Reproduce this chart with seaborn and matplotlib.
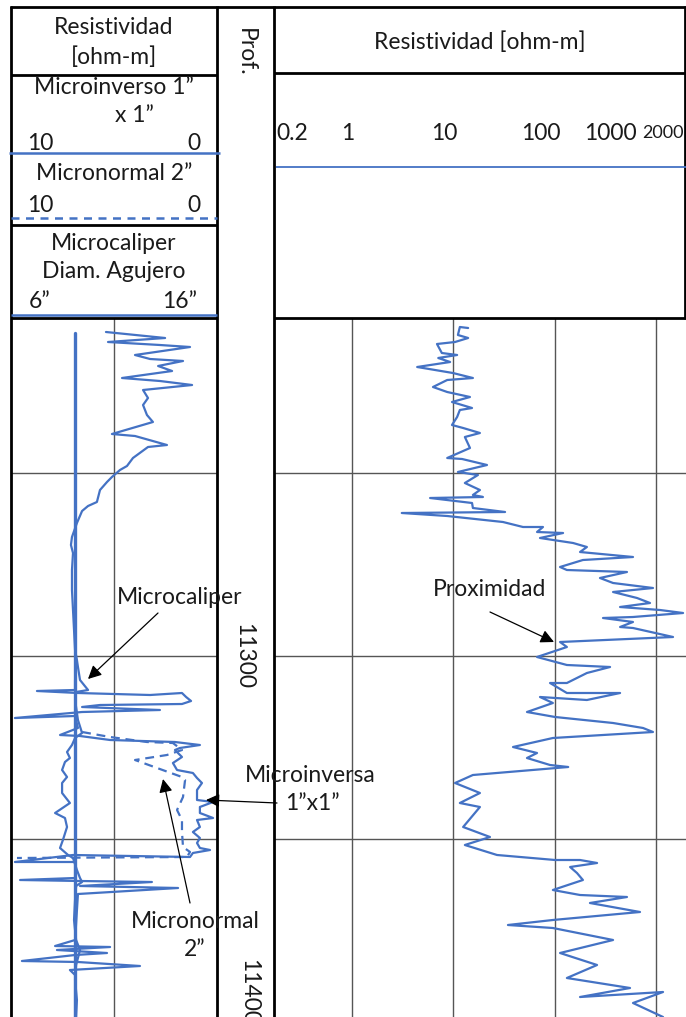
import matplotlib
matplotlib.use("Agg")
import matplotlib.pyplot as plt
from matplotlib.ticker import NullLocator
import seaborn as sns

sns.set_theme(style="white")
plt.rcParams['font.family'] = ['Lato', 'DejaVu Sans']

BLUE = "#4472C4"
GRID = "#555555"

# ---------------- log data (depth in ft) ----------------
# Proximity resistivity, ohm-m
prox_depth = [11201.6, 11201.3, 11203.7, 11204.6, 11205.8, 11206.4, 11209.1, 11209.7, 11210.6, 11211.8,
              11213.3, 11215.1, 11216.6, 11217.2, 11219.3, 11220.8, 11222.3, 11223.8, 11225.6, 11226.2,
              11228.3, 11230.7, 11231.6, 11233.1, 11234.3, 11237.6, 11240.6, 11240.9, 11242.7, 11244.8,
              11245.7, 11248.1, 11250.2, 11251.7, 11252.3, 11252.6, 11254.1, 11255.6, 11256.8, 11257.1,
              11258.0, 11259.8, 11261.3, 11261.3, 11262.8, 11263.1, 11264.6, 11266.1, 11267.3, 11268.8,
              11270.3, 11271.2, 11273.3, 11274.2, 11274.8, 11276.6, 11278.1, 11279.6, 11280.8, 11282.6,
              11284.1, 11285.3, 11286.2, 11287.1, 11288.3, 11288.6, 11289.8, 11291.3, 11291.6, 11294.3,
              11295.8, 11297.3, 11300.3, 11302.7, 11303.3, 11305.1, 11308.1, 11308.1, 11311.1, 11311.1,
              11313.2, 11312.3, 11314.1, 11316.8, 11318.3, 11320.1, 11321.6, 11322.8, 11324.6, 11327.3,
              11329.1, 11330.6, 11332.7, 11333.3, 11335.7, 11338.1, 11341.1, 11344.1, 11345.3, 11351.3,
              11354.3, 11356.7, 11359.7, 11361.2, 11361.2, 11362.1, 11363.3, 11365.1, 11367.2, 11370.2,
              11371.7, 11372.3, 11374.1, 11376.8, 11379.2, 11380.7, 11381.6, 11385.2, 11389.1, 11392.7,
              11396.6, 11399.6, 11402.3, 11400.8, 11404.1, 11408.3]
prox_res = [14.0, 11.6, 11.1, 14.0, 10.4, 6.9, 7.7, 10.9, 7.1, 9.3,
            4.4, 9.9, 15.6, 8.7, 6.3, 8.7, 14.6, 9.7, 15.3, 11.6,
            10.9, 9.7, 12.5, 18.3, 13.0, 14.6, 8.7, 12.2, 21.5, 11.1,
            17.5, 13.0, 18.3, 15.6, 19.6, 5.9, 15.3, 15.6, 32.4, 3.1,
            8.7, 30.9, 48.7, 76.7, 67, 121, 71.7, 152, 208, 178,
            593, 190, 113, 132, 517, 280, 377, 934, 377, 650,
            873, 442, 1096, 1849, 593, 300, 593, 442, 593, 1472,
            113, 132, 67, 132, 352, 208, 132, 90, 132, 442,
            208, 71.7, 96, 53.3, 101, 377, 745, 934, 96, 38.8,
            67, 53.3, 90, 136, 15.6, 10.4, 18.3, 11.6, 18.3, 12.5,
            23.0, 13.0, 27.0, 101, 178, 262, 142, 166, 190, 96,
            178, 517, 223, 695, 96, 34.6, 96, 377, 113, 262,
            132, 554, 178, 1173, 593, 1173]

# Microcaliper, inches
cal_depth = [11202.8, 11204.6, 11205.8, 11206.7, 11207.3, 11209.7, 11210.9, 11211.5, 11213.0, 11214.5,
             11216.6, 11217.5, 11218.7, 11220.2, 11222.6, 11224.7, 11227.7, 11229.8, 11233.4, 11234.0,
             11236.7, 11237.3, 11240.6, 11243.0, 11244.2, 11246.3, 11247.8, 11250.2, 11253.8, 11255.0,
             11256.5, 11260.1, 11264.3, 11266.7, 11269.1, 11274.2, 11280.2, 11286.2, 11292.2, 11298.2,
             11301.2, 11303.3, 11307.2, 11310.2, 11310.8, 11313.2, 11319.2, 11323.1, 11324.6, 11326.7,
             11328.8, 11330.6, 11331.8, 11334.2, 11336.3, 11338.1, 11341.1, 11344.1, 11347.1, 11348.6,
             11351.3, 11355.2, 11357.6, 11359.7, 11360.6, 11364.2, 11366.6, 11367.8, 11369.0, 11373.2,
             11379.2, 11385.2, 11388.2, 11390.6, 11392.7, 11397.2, 11403.2, 11408.3]
cal_in = [10.61, 13.48, 10.71, 13.23, 14.69, 12.02, 12.75, 14.35, 13.14, 13.82,
          11.39, 13.23, 14.79, 12.41, 12.65, 12.41, 12.60, 12.89, 10.90, 12.02,
          13.57, 12.65, 11.92, 11.63, 11.29, 10.90, 10.66, 10.32, 10.17, 9.74,
          9.45, 9.20, 8.96, 8.91, 9.01, 8.96, 8.96, 9.01, 9.06, 9.11,
          9.20, 9.25, 9.35, 9.74, 9.16, 9.11, 9.25, 9.45, 9.11, 8.96,
          8.72, 8.86, 8.62, 8.48, 8.72, 8.48, 8.48, 8.86, 8.14, 8.62,
          8.72, 8.52, 8.38, 8.77, 9.01, 9.20, 9.35, 9.45, 9.16, 9.11,
          9.06, 9.16, 9.35, 9.25, 9.16, 9.11, 9.20, 9.16]

# Bit size reference, inches
bit_depth = [11203.1, 11408.3]
bit_in = [9.1, 9.1]

# Microinverse 1"x1", ohm-m
minv_depth = [11307.2, 11310.2, 11310.5, 11311.1, 11311.7, 11311.1, 11312.3, 11313.5, 11314.4, 11314.7,
              11315.3, 11316.2, 11316.8, 11318.6, 11318.0, 11321.6, 11323.7, 11324.0, 11325.2, 11325.8,
              11326.7, 11327.6, 11328.2, 11330.3, 11332.1, 11334.2, 11335.1, 11336.6, 11338.1, 11340.2,
              11343.2, 11343.8, 11345.3, 11347.1, 11348.6, 11349.2, 11351.3, 11352.8, 11354.6, 11356.1,
              11357.6, 11358.2, 11359.1, 11360.3, 11359.7, 11361.8, 11361.8, 11366.6, 11367.2, 11367.5,
              11367.8, 11369.0, 11369.6, 11371.4, 11385.2, 11387.0, 11387.3, 11388.2, 11389.1, 11389.7,
              11391.5, 11391.8, 11393.0, 11394.2, 11395.7, 11408.3]
minv_res = [6.89, 6.89, 8.74, 6.75, 3.25, 1.70, 1.50, 1.26, 1.70, 5.68,
            6.55, 2.77, 6.55, 9.81, 6.89, 6.75, 7.62, 6.65, 5.19, 2.04,
            0.83, 1.80, 2.04, 1.70, 2.14, 1.94, 1.17, 0.97, 0.73, 0.97,
            0.97, 0.19, 0.83, 0.83, 0.19, 0.97, 0.83, 1.17, 0.83, 0.97,
            0.83, 0.34, 1.17, 1.31, 6.99, 9.81, 6.89, 6.89, 9.56, 6.65,
            3.16, 6.65, 1.89, 6.75, 6.89, 7.86, 5.19, 7.77, 5.34, 6.89,
            9.47, 6.75, 3.74, 7.14, 6.89, 6.89]

# Micronormal 2", ohm-m
mnor_depth = [11322.8, 11324.3, 11325.8, 11326.1, 11328.2, 11329.7, 11331.2, 11333.6, 11336.3, 11337.2,
              11342.3, 11346.2, 11349.2, 11352.8, 11357.3, 11358.8, 11360.3, 11360.6]
mnor_res = [6.55, 5.19, 3.40, 2.14, 1.70, 2.43, 3.98, 2.91, 1.70, 1.55,
            1.65, 1.94, 1.70, 1.70, 1.65, 1.31, 1.46, 9.71]

grid_depths = [11245, 11300, 11355]
res_grid = [1, 10, 100, 1000]
depth_labels = ["11300", "11400"]
res_labels = ["0.2", "1", "10", "100", "1000"]

# ---------------- figure layout (pixel based) ----------------
W, H = 686.0, 1017.0
fig = plt.figure(figsize=(W / 100, H / 100), dpi=100)
fig.patch.set_facecolor("white")

TOP_DATA = 318
ax_cal = fig.add_axes([11 / W, 0, (217 - 11) / W, (H - TOP_DATA) / H])
ax_mic = ax_cal.twiny()
ax_res = fig.add_axes([274 / W, 0, (686 - 274) / W, (H - TOP_DATA) / H])
ov = fig.add_axes([0, 0, 1, 1], zorder=10)
ov.set_xlim(0, W)
ov.set_ylim(H, 0)
ov.axis("off")
ov.patch.set_alpha(0)

ylims = (11408.3, 11198.6)

# left track: caliper scale 6-16 in, micro-resistivity scale 10-0 ohm-m
ax_cal.set_xlim(6, 16)
ax_cal.set_ylim(*ylims)
ax_mic.set_xlim(10, 0)
ax_mic.set_ylim(*ylims)
ax_cal.set_xticks([11])
ax_cal.set_yticks(grid_depths)
ax_cal.set_axisbelow(True)
ax_cal.grid(True, color=GRID, lw=1.0)
ax_mic.grid(False)
ax_mic.set_xticks([])

# right track: log resistivity
ax_res.set_xscale("log")
ax_res.set_xlim(0.170, 1977)
ax_res.set_ylim(*ylims)
ax_res.set_xticks(res_grid)
ax_res.xaxis.set_minor_locator(NullLocator())
ax_res.set_yticks(grid_depths)
ax_res.set_axisbelow(True)
ax_res.grid(True, color=GRID, lw=1.0)

for a in (ax_cal, ax_mic, ax_res):
    a.tick_params(length=0, labelbottom=False, labelleft=False, labeltop=False, labelright=False)
    for s in a.spines.values():
        s.set_visible(False)

# ---------------- curves ----------------
LW = 1.6
sns.lineplot(x=bit_in, y=bit_depth, ax=ax_cal, sort=False, estimator=None, color=BLUE, lw=2.4)
sns.lineplot(x=cal_in, y=cal_depth, ax=ax_cal, sort=False, estimator=None, color=BLUE, lw=LW)
sns.lineplot(x=minv_res, y=minv_depth, ax=ax_mic, sort=False, estimator=None, color=BLUE, lw=LW)
sns.lineplot(x=mnor_res, y=mnor_depth, ax=ax_mic, sort=False, estimator=None, color=BLUE, lw=LW,
             linestyle=(0, (4, 2.6)))
sns.lineplot(x=prox_res, y=prox_depth, ax=ax_res, sort=False, estimator=None, color=BLUE, lw=LW)
for a in (ax_cal, ax_mic, ax_res):
    a.set_xlabel("")
    a.set_ylabel("")

# ---------------- header and frame ----------------
def hline(y, x0, x1, **kw):
    ov.plot([x0, x1], [y, y], solid_capstyle="butt", **kw)

def vline(x, y0, y1, **kw):
    ov.plot([x, x], [y0, y1], solid_capstyle="butt", **kw)

K = dict(color="black", lw=2.0)
hline(7, 10, 686, **K)
hline(75, 11, 217, **K)
hline(225, 11, 217, **K)
hline(318, 11, 217, **K)
hline(73, 274, 686, **K)
hline(318, 274, 686, **K)
vline(11, 6, H, **K)
vline(217, 6, H, **K)
vline(274, 6, H, **K)
vline(685, 6, 319, **K)

# scale lines
hline(153, 9, 220, color=BLUE, lw=1.8)
ov.plot([11, 217], [218, 218], color=BLUE, lw=1.8, linestyle=(0, (3.2, 2.6)))
hline(315, 11, 217, color=BLUE, lw=1.8)
hline(167, 276, 686, color=BLUE, lw=1.3)

FS = 16.5
TXT = "#1a1a1a"
tk = dict(fontsize=FS, color=TXT, ha="center", va="center")
ov.text(114, 27, "Resistividad", **tk)
ov.text(114, 57, "[ohm-m]", **tk)
ov.text(114, 88, "Microinverso 1\u201d", **tk)
ov.text(134, 116, "x 1\u201d", **tk)
ov.text(40, 143, "10", **tk)
ov.text(194, 143, "0", **tk)
ov.text(114, 173, "Micronormal 2\u201d", **tk)
ov.text(40, 205, "10", **tk)
ov.text(194, 205, "0", **tk)
ov.text(114, 243, "Microcaliper", **tk)
ov.text(114, 272, "Diam. Agujero", **tk)
ov.text(40, 302, "6\u201d", **tk)
ov.text(180, 302, "16\u201d", **tk)

ov.text(245, 52, "Prof.", rotation=270, **tk)
ov.text(244, 656, depth_labels[0], rotation=270, **tk)
ov.text(249, 992, depth_labels[1], rotation=270, **tk)

ov.text(480, 42, "Resistividad [ohm-m]", **tk)
for lab, px in zip(res_labels, [292, 348, 444, 541, 610]):
    ov.text(px, 133, lab, **tk)
ov.text(642, 133, "2000", fontsize=13, color=TXT, ha="left", va="center", clip_on=True)

# ---------------- annotations ----------------
arw = dict(arrowstyle="-|>", color="black", lw=0.9, mutation_scale=20, shrinkA=0, shrinkB=0)
ov.text(180, 597, "Microcaliper", **tk)
ov.annotate("", xy=(88, 679), xytext=(158, 613), arrowprops=arw)
ov.text(490, 589, "Proximidad", **tk)
ov.annotate("", xy=(554, 642), xytext=(490, 612), arrowprops=arw)
ov.text(310, 776, "Microinversa", **tk)
ov.text(312, 803, "1\u201dx1\u201d", **tk)
ov.annotate("", xy=(206, 800), xytext=(277, 803), arrowprops=arw)
ov.text(195, 922, "Micronormal", **tk)
ov.text(195, 950, "2\u201d", **tk)
ov.annotate("", xy=(163, 779), xytext=(190, 903), arrowprops=arw)

fig.savefig("out.png", dpi=100, facecolor="white")
